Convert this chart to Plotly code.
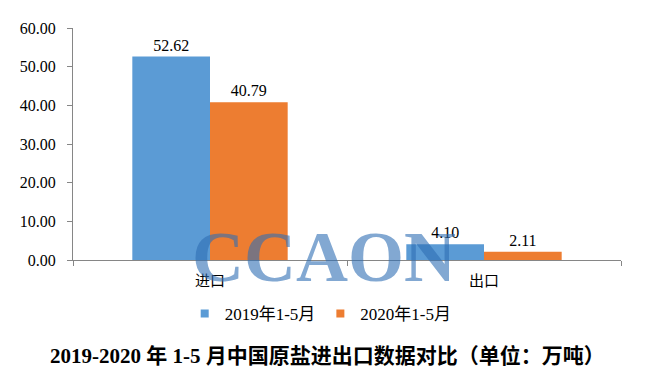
import plotly.graph_objects as go

categories = ["进口", "出口"]
series_names = ["2019年1-5月", "2020年1-5月"]
values_2019 = [52.62, 4.10]
values_2020 = [40.79, 2.11]
colors = ["#5B9BD5", "#ED7D31"]
title_text = "2019-2020 年 1-5 月中国原盐进出口数据对比（单位：万吨）"

FONT = "Liberation Serif, Noto Sans CJK SC, serif"

fig = go.Figure()
for name, vals, col in zip(series_names, [values_2019, values_2020], colors):
    fig.add_trace(go.Bar(
        x=categories, y=vals, name=name, marker_color=col,
        marker_line_width=0, showlegend=False,
        text=[f"{v:.2f}" for v in vals], textposition="outside",
        textfont=dict(family=FONT, size=16, color="#000000"),
        cliponaxis=False,
    ))
# legend entries with small square markers
for name, col in zip(series_names, colors):
    fig.add_trace(go.Scatter(
        x=[None], y=[None], mode="markers", name=name,
        marker=dict(symbol="square", size=8, color=col),
    ))

# page has an 8px body margin: figure is 630x371 placed at (8, 8)
fig.update_layout(
    width=630, height=371,
    margin=dict(l=63, r=17, t=16, b=119),
    paper_bgcolor="white", plot_bgcolor="white",
    barmode="group", bargap=0.433, bargroupgap=0,
    font=dict(family=FONT, size=16, color="#000000"),
    showlegend=True,
    legend=dict(orientation="h", x=0.452, y=-0.233, xanchor="center", yanchor="middle",
                font=dict(family=FONT, size=17), itemwidth=30, traceorder="normal",
                tracegroupgap=0, itemclick=False),
    xaxis=dict(showline=True, linecolor="#868686", linewidth=1,
               ticks="outside", tickson="boundaries", ticklen=5, tickcolor="#868686",
               tickfont=dict(family="Noto Sans CJK SC", size=15), showgrid=False,
               ticklabelstandoff=7),
    yaxis=dict(range=[0, 60], dtick=10, tickformat=".2f", showline=True,
               linecolor="#868686", linewidth=1, ticks="outside", ticklen=5,
               tickcolor="#868686", showgrid=False, zeroline=False,
               tickfont=dict(family=FONT, size=16), ticklabelstandoff=8),
    annotations=[
        dict(text="<b>CCAON</b>", xref="paper", yref="paper", x=0.458, y=0.015,
             xanchor="center", yanchor="middle", showarrow=False,
             font=dict(family="Liberation Serif, serif", size=72, color="rgba(46,110,180,0.6)")),
        dict(text="<b>" + title_text + "</b>", xref="paper", yref="paper",
             x=0.465, y=-0.415, xanchor="center", yanchor="middle", showarrow=False,
             font=dict(family="Liberation Serif, Noto Sans CJK SC, serif", size=21, color="#000000")),
    ],
)

fig.write_html("out.html")
